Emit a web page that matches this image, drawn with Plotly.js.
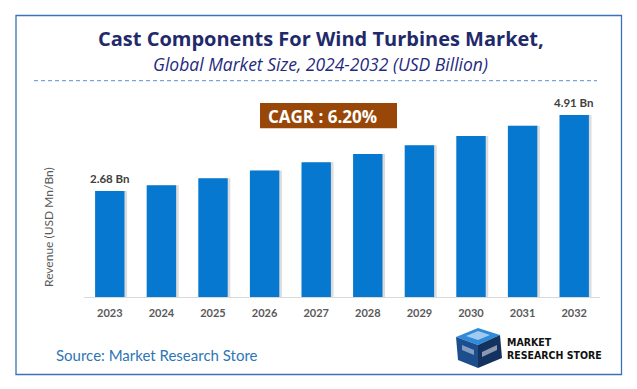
<!DOCTYPE html>
<html>
<head>
<meta charset="utf-8">
<script src="https://cdn.plot.ly/plotly-3.0.1.min.js"></script>
<style>html,body{margin:0;padding:0;background:#fff;}#chart{width:637px;height:389px;}</style>
</head>
<body>
<div id="chart"></div>
<script>
// ---- data ----
const years = ['2023','2024','2025','2026','2027','2028','2029','2030','2031','2032'];
const revenue = [2.68, 2.85, 3.05, 3.28, 3.52, 3.76, 4.02, 4.29, 4.59, 4.91];
const valueLabels = ['2.68 Bn', '', '', '', '', '', '', '', '', '4.91 Bn'];
const titleText = 'Cast Components For Wind Turbines Market,';
const subtitleText = 'Global Market Size, 2024-2032 (USD Billion)';
const cagrText = 'CAGR : 6.20%';
const yTitleText = 'Revenue (USD Mn/Bn)';
const sourceText = 'Source: Market Research Store';

// ---- layout helpers ----
const W = 637, H = 389;
const ML = 84, MR = W - 600, MT = 90, MB = H - 297;
const PW = W - ML - MR, PH = H - MT - MB;
const X = px => (px - ML) / PW;
const Y = py => (H - MB - py) / PH;
const Y_MIN = -0.43, Y_MAX = 5.64;
const FONT = 'Lato, "Open Sans", sans-serif';
const OPEN = '"Open Sans", Lato, sans-serif';
const COND = '"Liberation Sans Narrow", "DejaVu Sans Condensed", sans-serif';

const bars = {
  type: 'bar', x: years, y: revenue.map(v => v - Y_MIN), base: Y_MIN,
  width: 0.57, marker: {color: '#0778CF', line: {width: 0}},
  hoverinfo: 'skip', showlegend: false
};
const shadow = {
  type: 'bar', x: years, y: revenue.map(v => v - Y_MIN), base: Y_MIN,
  width: 0.57, offset: -0.285 + 0.05,
  marker: {color: 'rgba(80,80,80,0.2)', line: {width: 0}},
  hoverinfo: 'skip', showlegend: false
};

const annotations = [];
years.forEach((yr, i) => {
  if (valueLabels[i]) annotations.push({
    x: i, y: revenue[i], xref: 'x', yref: 'y', text: '<b>' + valueLabels[i] + '</b>',
    showarrow: false, yanchor: 'bottom', yshift: 4,
    font: {family: FONT, size: 11.5, color: '#404040'}
  });
});
annotations.push(
  {x: X(321), y: Y(38), xref: 'paper', yref: 'paper', text: '<b>' + titleText + '</b>', showarrow: false,
   xanchor: 'center', yanchor: 'middle', font: {family: OPEN, size: 20, color: '#1F2A6B'}},
  {x: X(320.5), y: Y(64), xref: 'paper', yref: 'paper', text: '<i>' + subtitleText + '</i>', showarrow: false,
   xanchor: 'center', yanchor: 'middle', font: {family: OPEN, size: 17.5, color: '#1F2A80'}},
  {x: X(266), y: Y(116), xref: 'paper', yref: 'paper', text: '<b>' + cagrText + '</b>', showarrow: false,
   xanchor: 'left', yanchor: 'middle', font: {family: OPEN, size: 17, color: '#ffffff'}},
  {x: X(48), y: Y(227), xref: 'paper', yref: 'paper', text: yTitleText, showarrow: false, textangle: -90,
   xanchor: 'center', yanchor: 'middle', font: {family: FONT, size: 12, color: '#595959'}},
  {x: X(54), y: Y(355), xref: 'paper', yref: 'paper', text: sourceText, showarrow: false,
   xanchor: 'left', yanchor: 'middle', font: {family: FONT, size: 15, color: '#2E75B6'}},
  {x: X(505), y: Y(342), xref: 'paper', yref: 'paper', text: '<b>MARKET</b>', showarrow: false,
   xanchor: 'left', yanchor: 'middle', font: {family: COND, size: 10.5, color: '#111111'}},
  {x: X(505), y: Y(354.5), xref: 'paper', yref: 'paper', text: '<b>RESEARCH STORE</b>', showarrow: false,
   xanchor: 'left', yanchor: 'middle', font: {family: COND, size: 10.5, color: '#111111'}}
);

function P(points) {
  return 'M ' + points.map(p => X(p[0]) + ',' + Y(p[1])).join(' L ') + ' Z';
}
const shapes = [
  {type: 'rect', xref: 'paper', yref: 'paper', x0: X(16), x1: X(621.5), y0: Y(15.5), y1: Y(374.5),
   line: {color: '#3A72B8', width: 1.3}, fillcolor: 'rgba(0,0,0,0)', layer: 'below'},
  {type: 'line', xref: 'paper', yref: 'paper', x0: X(34), x1: X(597), y0: Y(80.7), y1: Y(80.7),
   line: {color: '#5A8ED4', width: 1, dash: '4px,3px'}},
  {type: 'rect', xref: 'paper', yref: 'paper', x0: X(260), x1: X(397), y0: Y(103), y1: Y(128.3),
   line: {width: 0}, fillcolor: '#994708'},
  // logo icon (cube)
  {type: 'path', xref: 'paper', yref: 'paper', path: P([[456,337],[478,328],[500,335],[478,345]]),
   fillcolor: '#2F8BD9', line: {width: 0}},
  {type: 'path', xref: 'paper', yref: 'paper', path: P([[456,337],[478,345],[478,368],[458,360]]),
   fillcolor: '#1C4E8E', line: {width: 0}},
  {type: 'path', xref: 'paper', yref: 'paper', path: P([[478,345],[500,335],[502,358],[478,368]]),
   fillcolor: '#14325F', line: {width: 0}},
  {type: 'path', xref: 'paper', yref: 'paper', path: P([[466,336],[478,331],[490,335],[478,340]]),
   fillcolor: '#ffffff', line: {width: 0}, opacity: 0.55},
  {type: 'path', xref: 'paper', yref: 'paper', path: P([[482,352],[497,345],[497,350],[482,357]]),
   fillcolor: '#ffffff', line: {width: 0}, opacity: 0.5},
  {type: 'path', xref: 'paper', yref: 'paper', path: P([[462,345],[474,350],[474,355],[462,350]]),
   fillcolor: '#ffffff', line: {width: 0}, opacity: 0.45}
];

const layout = {
  width: W, height: H,
  margin: {l: ML, r: MR, t: MT, b: MB, pad: 0},
  paper_bgcolor: '#ffffff', plot_bgcolor: '#ffffff',
  barmode: 'overlay', bargap: 0.43,
  showlegend: false,
  xaxis: {type: 'category', range: [-0.5, 9.5], showgrid: false, zeroline: false,
          showline: true, linecolor: '#D9D9D9', linewidth: 1, ticks: '', ticklabelstandoff: 6,
          tickfont: {family: FONT, size: 11, color: '#595959', weight: 'bold'}},
  yaxis: {range: [Y_MIN, Y_MAX], showgrid: false, zeroline: false, showline: false,
          showticklabels: false, ticks: ''},
  annotations: annotations,
  shapes: shapes
};

Plotly.newPlot('chart', [shadow, bars], layout, {displayModeBar: false, staticPlot: true});
</script>
</body>
</html>
